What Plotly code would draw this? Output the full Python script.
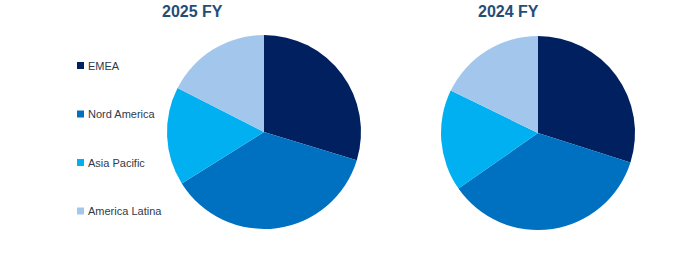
import plotly.graph_objects as go

regions = ["EMEA", "Nord America", "Asia Pacific", "America Latina"]
colors = ["#002060", "#0070C0", "#00B0F0", "#A3C7EC"]
values_2025 = [29.7, 36.4, 16.4, 17.5]
values_2024 = [29.9, 35.4, 16.9, 17.8]
titles = ["2025 FY", "2024 FY"]

W, H = 674, 253

fig = go.Figure()

def px_dom(x0, x1, y0, y1):
    return dict(x=[x0 / W, x1 / W], y=[1 - y1 / H, 1 - y0 / H])

for vals, dom in [(values_2025, px_dom(167, 361, 35, 229)),
                  (values_2024, px_dom(441, 635, 36, 230))]:
    fig.add_trace(go.Pie(
        labels=regions, values=vals, sort=False, direction="clockwise",
        rotation=0, textinfo="none", showlegend=False,
        marker=dict(colors=colors, line=dict(width=0)),
        domain=dom,
    ))

# titles
for t, xc in zip(titles, [192, 508]):
    fig.add_annotation(text=f"<b>{t}</b>", x=xc / W, y=1 - 12 / H, xref="paper", yref="paper",
                       showarrow=False, xanchor="center", yanchor="middle",
                       font=dict(family="Liberation Sans, Arial", size=16, color="#1F4E79"))

# legend
ys = [65.5, 114, 162.5, 211]
for name, c, yc in zip(regions, colors, ys):
    fig.add_shape(type="rect", xref="paper", yref="paper",
                  x0=77 / W, x1=84 / W, y0=1 - (yc + 3.5) / H, y1=1 - (yc - 3.5) / H,
                  fillcolor=c, line=dict(width=0))
    fig.add_annotation(text=name, x=86 / W, y=1 - yc / H, xref="paper", yref="paper",
                       showarrow=False, xanchor="left", yanchor="middle",
                       font=dict(family="Liberation Sans, Arial", size=11, color="#2F3B4C"))

fig.update_layout(width=W, height=H, margin=dict(l=0, r=0, t=0, b=0),
                  paper_bgcolor="white", plot_bgcolor="white")

fig.write_html("out.html")
